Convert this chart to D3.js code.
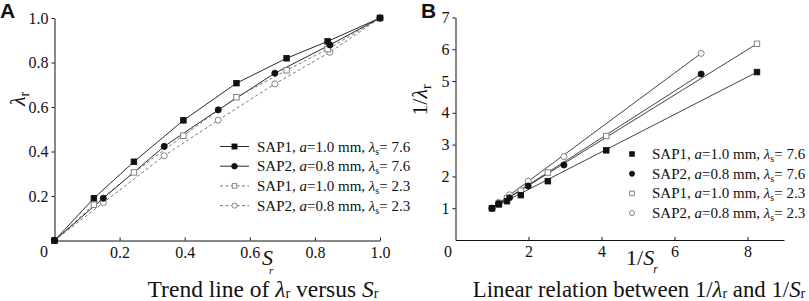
<!DOCTYPE html>
<html><head><meta charset="utf-8">
<script src="https://cdn.jsdelivr.net/npm/d3@7"></script>
<style>
html,body{margin:0;padding:0;background:#fff;}
svg{display:block;}
svg text{font-family:"Liberation Serif","Times New Roman",serif;}
</style></head>
<body>
<svg id="c" width="809" height="301"></svg>
<script>
// ---------- Data (Panel A: lambda_r versus S_r) ----------
const sSAP1 = [0, 0.121, 0.244, 0.396, 0.559, 0.713, 0.839, 1.0];
const lamSAP1_76 = [0, 0.190, 0.354, 0.540, 0.707, 0.819, 0.895, 1.0];
const lamSAP1_23 = [0, 0.161, 0.306, 0.471, 0.644, 0.765, 0.860, 1.0];
const sSAP2 = [0, 0.150, 0.337, 0.503, 0.677, 0.846, 1.0];
const lamSAP2_76 = [0, 0.190, 0.423, 0.587, 0.752, 0.879, 1.0];
const lamSAP2_23 = [0, 0.170, 0.381, 0.541, 0.704, 0.846, 1.0];

// ---------- Data (Panel B: 1/lambda_r versus 1/S_r) ----------
const invS_SAP1 = [1.00, 1.19, 1.41, 1.79, 2.53, 4.13, 8.26];
const invLam_SAP1_76 = [1.00, 1.12, 1.22, 1.41, 1.85, 2.82, 5.28];
const invLam_SAP1_23 = [1.00, 1.16, 1.31, 1.55, 2.12, 3.27, 6.17];
const invS_SAP2 = [1.00, 1.18, 1.48, 1.99, 2.97, 6.73];
const invLam_SAP2_76 = [1.00, 1.14, 1.33, 1.70, 2.36, 5.22];
const invLam_SAP2_23 = [1.00, 1.18, 1.42, 1.85, 2.62, 5.87];

const ticksA = [0.2, 0.4, 0.6, 0.8, 1.0];
const ticksBx = [2, 4, 6, 8];
const ticksBy = [1, 2, 3, 4, 5, 6, 7];

const seriesMeta = [
  {name:"SAP1", a:"1.0", ls:"7.6", shape:"square", fill:true},
  {name:"SAP2", a:"0.8", ls:"7.6", shape:"circle", fill:true},
  {name:"SAP1", a:"1.0", ls:"2.3", shape:"square", fill:false},
  {name:"SAP2", a:"0.8", ls:"2.3", shape:"circle", fill:false}
];

const seriesA = [
  {x:sSAP1, y:lamSAP1_76, m:seriesMeta[0]},
  {x:sSAP2, y:lamSAP2_76, m:seriesMeta[1]},
  {x:sSAP1, y:lamSAP1_23, m:seriesMeta[2]},
  {x:sSAP2, y:lamSAP2_23, m:seriesMeta[3]}
];
const seriesB = [
  {x:invS_SAP1, y:invLam_SAP1_76, m:seriesMeta[0]},
  {x:invS_SAP2, y:invLam_SAP2_76, m:seriesMeta[1]},
  {x:invS_SAP1, y:invLam_SAP1_23, m:seriesMeta[2]},
  {x:invS_SAP2, y:invLam_SAP2_23, m:seriesMeta[3]}
];

const SERIF = "Liberation Serif, Times New Roman, serif";
const svg = d3.select("#c");
const INK = "#111";
const GREY = "#777";

function marker(g, cx, cy, m, size) {
  const col = m.fill ? INK : GREY;
  if (m.shape === "square") {
    g.append("rect").attr("x", cx - size/2).attr("y", cy - size/2)
      .attr("width", size).attr("height", size)
      .attr("fill", m.fill ? INK : "#fff").attr("stroke", col).attr("stroke-width", 0.9);
  } else {
    g.append("circle").attr("cx", cx).attr("cy", cy).attr("r", size/2 + 0.3)
      .attr("fill", m.fill ? INK : "#fff").attr("stroke", col).attr("stroke-width", 0.9);
  }
}

function styleAxis(g) {
  g.attr("font-family", SERIF);
  g.select(".domain").attr("stroke", INK).attr("stroke-width", 1);
  g.selectAll(".tick line").attr("stroke", INK).attr("stroke-width", 1);
  g.selectAll(".tick text").attr("font-family", SERIF).attr("font-size", 16).attr("fill", INK);
}

function legendText(t, m) {
  t.append("tspan").text(m.name + ", ");
  t.append("tspan").attr("font-style", "italic").text("a");
  t.append("tspan").text("=" + m.a + " mm, ");
  t.append("tspan").attr("font-style", "italic").text("λ");
  t.append("tspan").attr("font-size", 10).attr("dy", 3).text("s");
  t.append("tspan").attr("dy", -3).text("= " + m.ls);
}

// ================= Panel A =================
const xA = d3.scaleLinear().domain([0, 1]).range([54.5, 380]);
const yA = d3.scaleLinear().domain([0, 1]).range([240.5, 18]);
const gA = svg.append("g").attr("font-family", SERIF);

gA.append("g").attr("transform", `translate(0,${yA(0)})`)
  .call(d3.axisBottom(xA).tickValues(ticksA).tickFormat(d3.format(".1f")).tickSize(-3).tickSizeOuter(0).tickPadding(6))
  .call(styleAxis);
gA.append("g").attr("transform", `translate(${xA(0)},0)`)
  .call(d3.axisLeft(yA).tickValues(ticksA).tickFormat(d3.format(".1f")).tickSize(3).tickSizeOuter(0).tickPadding(3))
  .call(styleAxis);
gA.append("text").attr("x", 44).attr("y", 257).attr("text-anchor", "middle")
  .attr("font-size", 16).attr("fill", INK).text("0");

const lineA = d3.line().x(d => xA(d[0])).y(d => yA(d[1]));
seriesA.forEach(s => {
  const pts = s.x.map((v, i) => [v, s.y[i]]);
  gA.append("path").datum(pts).attr("d", lineA).attr("fill", "none")
    .attr("stroke", s.m.fill ? INK : "#555").attr("stroke-width", s.m.fill ? 0.9 : 0.8)
    .attr("stroke-dasharray", s.m.fill ? null : "3,2.5");
});
seriesA.slice().reverse().forEach(s => {
  s.x.forEach((v, i) => marker(gA, xA(v), yA(s.y[i]), s.m, 5.5));
});

// Legend A
seriesMeta.forEach((m, i) => {
  const y = 146.5 + i * 19.7;
  gA.append("line").attr("x1", 220).attr("x2", 249).attr("y1", y).attr("y2", y)
    .attr("stroke", m.fill ? INK : "#666").attr("stroke-width", 0.9)
    .attr("stroke-dasharray", m.fill ? null : "3,2.5");
  marker(gA, 234.5, y, m, m.fill ? 5 : 4.5);
  const t = gA.append("text").attr("x", 257).attr("y", y + 5).attr("font-size", 15).attr("fill", INK);
  legendText(t, m);
});

// Axis titles A
const ylA = gA.append("text").attr("transform", "translate(25,99) rotate(-90)")
  .attr("text-anchor", "middle").attr("font-size", 22).attr("fill", INK);
ylA.append("tspan").attr("font-style", "italic").text("λ");
ylA.append("tspan").attr("font-size", 14).attr("dy", 4).text("r");

const xlA = gA.append("text").attr("x", 262).attr("y", 265).attr("font-size", 22).attr("fill", INK);
xlA.append("tspan").attr("font-style", "italic").text("S");
xlA.append("tspan").attr("font-style", "italic").attr("font-size", 11).attr("dy", 9).attr("dx", -4).text("r");

const tA = gA.append("text").attr("x", 263).attr("y", 297).attr("text-anchor", "middle")
  .attr("font-size", 23.5).attr("fill", INK);
tA.append("tspan").text("Trend line of ");
tA.append("tspan").attr("font-style", "italic").text("λ");
tA.append("tspan").attr("font-size", 14).attr("dy", 1).text("r");
tA.append("tspan").attr("dy", -1).text(" versus ");
tA.append("tspan").attr("font-style", "italic").text("S");
tA.append("tspan").attr("font-size", 14).attr("dy", 1).text("r");

svg.append("text").attr("x", 0).attr("y", 18).style("font-family", "Liberation Sans, Arial, sans-serif")
  .attr("font-weight", "bold").attr("font-size", 21).attr("fill", INK).text("A");

// ================= Panel B =================
const xB = d3.scaleLinear().domain([0, 9]).range([455.5, 784]);
const yB = d3.scaleLinear().domain([0, 7]).range([240, 17.4]);
const gB = svg.append("g").attr("font-family", SERIF);

gB.append("g").attr("transform", `translate(0,${yB(0)})`)
  .call(d3.axisBottom(xB).tickValues(ticksBx).tickFormat(d3.format("d")).tickSize(-3).tickSizeOuter(0).tickPadding(6))
  .call(styleAxis);
gB.append("g").attr("transform", `translate(${xB(0)},0)`)
  .call(d3.axisLeft(yB).tickValues(ticksBy).tickFormat(d3.format("d")).tickSize(3).tickSizeOuter(0).tickPadding(3))
  .call(styleAxis);
gB.append("text").attr("x", 448).attr("y", 257).attr("text-anchor", "middle")
  .attr("font-size", 16).attr("fill", INK).text("0");

seriesB.forEach(s => {
  const n = s.x.length - 1;
  gB.append("line").attr("x1", xB(s.x[0])).attr("y1", yB(s.y[0]))
    .attr("x2", xB(s.x[n])).attr("y2", yB(s.y[n]))
    .attr("stroke", INK).attr("stroke-width", 0.8);
});
seriesB.slice().reverse().forEach(s => {
  s.x.forEach((v, i) => marker(gB, xB(v), yB(s.y[i]), s.m, 5.5));
});

// Legend B
seriesMeta.forEach((m, i) => {
  const y = 154 + i * 19.7;
  marker(gB, 632, y, m, 4.5);
  const t = gB.append("text").attr("x", 652).attr("y", y + 5).attr("font-size", 15).attr("fill", INK);
  legendText(t, m);
});

// Axis titles B
const ylB = gB.append("text").attr("transform", "translate(427,100) rotate(-90)")
  .attr("text-anchor", "middle").attr("font-size", 22).attr("fill", INK);
ylB.append("tspan").text("1/");
ylB.append("tspan").attr("font-style", "italic").text("λ");
ylB.append("tspan").attr("font-size", 14).attr("dy", 4).text("r");

const xlB = gB.append("text").attr("x", 626).attr("y", 265).attr("font-size", 22).attr("fill", INK);
xlB.append("tspan").text("1/");
xlB.append("tspan").attr("font-style", "italic").text("S");
xlB.append("tspan").attr("font-style", "italic").attr("font-size", 12).attr("dy", 8).attr("dx", -1).text("r");

const tB = gB.append("text").attr("x", 639).attr("y", 297).attr("text-anchor", "middle")
  .attr("font-size", 22.8).attr("fill", INK);
tB.append("tspan").text("Linear relation between 1/");
tB.append("tspan").attr("font-style", "italic").text("λ");
tB.append("tspan").attr("font-size", 14).attr("dy", 1).text("r");
tB.append("tspan").attr("dy", -1).text(" and 1/");
tB.append("tspan").attr("font-style", "italic").text("S");
tB.append("tspan").attr("font-size", 14).attr("dy", 1).text("r");

svg.append("text").attr("x", 421).attr("y", 18).style("font-family", "Liberation Sans, Arial, sans-serif")
  .attr("font-weight", "bold").attr("font-size", 21).attr("fill", INK).text("B");
</script>
</body></html>
